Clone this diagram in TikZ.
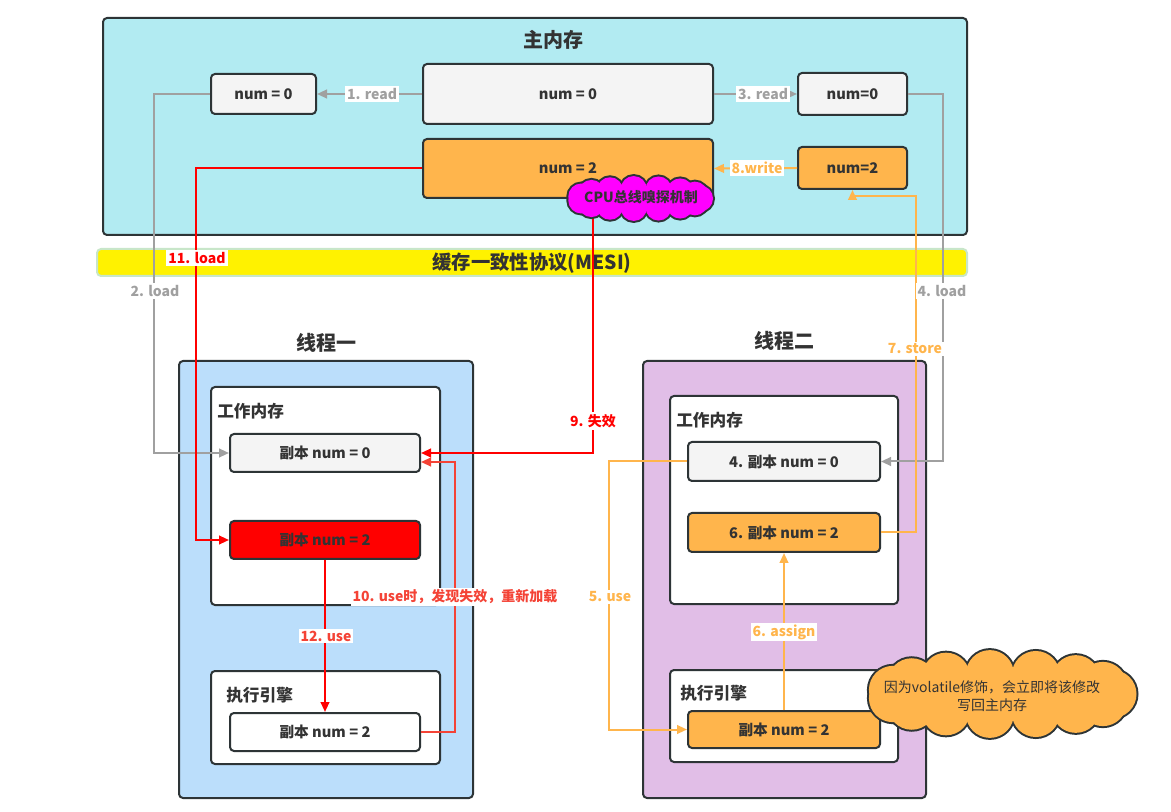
\documentclass[tikz,border=0pt]{standalone}
\usepackage{fontspec}
\setmainfont{Noto Sans CJK SC}
\usetikzlibrary{fit,arrows.meta,calc}
\definecolor{bc}{HTML}{2D3436}
\definecolor{txt}{HTML}{333333}
\definecolor{mainbg}{HTML}{B2EBF2}
\definecolor{t1bg}{HTML}{BBDEFB}
\definecolor{t2bg}{HTML}{E1BEE7}
\definecolor{lgrey}{HTML}{F4F4F4}
\definecolor{orng}{HTML}{FFB54C}
\definecolor{magn}{HTML}{FF00FF}
\definecolor{gline}{HTML}{A0A0A0}
\definecolor{rline}{HTML}{FF0000}
\definecolor{rline2}{HTML}{F44336}
\definecolor{bandedge}{HTML}{C8E6C9}
\tikzset{
  frame/.style={draw=bc, line width=1.5pt, rounded corners=3pt, inner sep=0pt},
  sz/.style 2 args={minimum width=#1*0.75pt, minimum height=#2*0.75pt},
  cell/.style={frame, text=txt, font=\bfseries\fontsize{11}{13}\selectfont},
  title/.style={text=txt, font=\bfseries\fontsize{15}{18}\selectfont},
  sub/.style={text=txt, anchor=west, inner sep=0pt, font=\bfseries\fontsize{12.5}{15}\selectfont},
  lbl/.style={fill=white, inner sep=1.5pt, font=\bfseries\fontsize{10.5}{12}\selectfont},
  puffline/.style={draw=bc, line width=3pt},
  tip/.style={-{Triangle[length=7.5pt,width=6.5pt]}},
  garr/.style={draw=gline, line width=1.5pt, tip},
  oarr/.style={draw=orng, line width=1.5pt, tip},
  rarr/.style={draw=rline, line width=1.5pt, tip},
  rarr2/.style={draw=rline2, line width=1.5pt, tip},
}
\begin{document}
\begin{tikzpicture}[x=0.75pt,y=-0.75pt]
\useasboundingbox (0,0) rectangle (1171,812);
% main memory
\node[frame, fill=mainbg, fit={(103,18) (967,235)}] (mm) {};
\node[title] (mmt) at (553,40) {主内存};
\node[cell, fill=lgrey, sz={105}{40}] (l0) at (263.5,94) {num = 0};
\node[cell, fill=lgrey, sz={290}{60}] (c0) at (568,94) {num = 0};
\node[cell, fill=lgrey, sz={109}{42}] (r0) at (852.5,94) {num=0};
\node[cell, fill=orng, sz={290}{59}] (c2) at (568,168.5) {num = 2};
\node[cell, fill=orng, sz={109}{42}] (r2) at (852.5,168) {num=2};
% band
\node[draw=bandedge, line width=1.5pt, rounded corners=3pt, fill=yellow, inner sep=0pt, fit={(97,249) (967,276)}] (band) {};
\node[text=txt, font=\bfseries\fontsize{14.5}{16}\selectfont] (bandt) at (532,263) {缓存一致性协议(MESI)};
% thread 1
\node[title] (t1t) at (326,343) {线程一};
\node[frame, fill=t1bg, fit={(179,361) (473,798)}] (t1) {};
\node[frame, fill=white, fit={(211,387) (440,605)}] (t1w) {};
\node[sub] (t1wt) at (217,411) {工作内存};
\node[cell, fill=lgrey, sz={190}{38}] (t1c0) at (325,453) {副本 num = 0};
\node[cell, fill=red, sz={190}{38}] (t1c2) at (325,540) {副本 num = 2};
\node[frame, fill=white, fit={(211,671) (440,764)}] (t1e) {};
\node[sub] (t1et) at (226,695) {执行引擎};
\node[cell, fill=white, sz={190}{38}] (t1e2) at (325,732) {副本 num = 2};
% thread 2
\node[title] (t2t) at (784,341) {线程二};
\node[frame, fill=t2bg, fit={(643,361) (926,798)}] (t2) {};
\node[frame, fill=white, fit={(670,396) (898,604)}] (t2w) {};
\node[sub] (t2wt) at (676,420) {工作内存};
\node[cell, fill=lgrey, sz={192}{39}] (t2c0) at (784,461.5) {4. 副本 num = 0};
\node[cell, fill=orng, sz={192}{39}] (t2c2) at (784,532.5) {6. 副本 num = 2};
\node[frame, fill=white, fit={(670,670) (898,762)}] (t2e) {};
\node[sub] (t2et) at (680,693) {执行引擎};
\node[cell, fill=orng, sz={192}{37}] (t2e2) at (784,729.5) {副本 num = 2};
% connectors
\coordinate (cpuout) at (593,214);
\draw[garr] (c0.west) -- (l0.east);
\draw[garr] (c0.east) -- (r0.west);
\draw[oarr] (r2.west) -- (c2.east);
\draw[garr] (l0.west) -- ++(-56,0) |- (t1c0.west);
\draw[garr] (r0.east) -- ++(35,0) |- (t2c0.east);
\draw[rarr] (c2.west) -- ++(-226,0) |- (t1c2.west);
\draw[rarr] (cpuout) |- (t1c0.east);
\draw[rarr2] (t1e2.east) -- ++(34,0) |- ($(t1c0.east)+(0,9)$);
\draw[rarr] (t1c2.south) -- (t1e2.north);
\draw[oarr] (t2c0.west) -- ++(-78,0) |- (t2e2.west);
\draw[oarr] (t2e2.north) -- (t2c2.south);
\draw[oarr] (t2c2.east) -- ++(35,0) -- ++(0,-336) -| (r2.south);
% CPU cloud
\foreach \t in {0,24,...,336} \draw[puffline] (640,198.5) ++(\t:60 and 9.5) circle (13);
\foreach \t in {0,24,...,336} \fill[magn] (640,198.5) ++(\t:60 and 9.5) circle (13);
\fill[magn] (640,198.5) ellipse (60 and 9.5);
\node[inner sep=0pt, fit={(567,176) (713,221)}] (cpu) {};
\node[text=txt, font=\bfseries\fontsize{10.5}{12}\selectfont] (cput) at (641,197) {CPU总线嗅探机制};
% note cloud
\foreach \t in {0,24,...,336} \draw[puffline] (1001.5,694) ++(\t:111 and 20) circle (24);
\foreach \t in {0,24,...,336} \fill[orng] (1001.5,694) ++(\t:111 and 20) circle (24);
\fill[orng] (1001.5,694) ellipse (111 and 20);
\node[inner sep=0pt, fit={(866,650) (1137,738)}] (note) {};
\node[align=center, text=txt, font=\fontsize{10.5}{13}\selectfont] (notet) at (992,696)
      {因为volatile修饰，会立即将该修改\\写回主内存};
% labels
\node[lbl, text=gline] (lb1) at (372,94) {1. read};
\node[lbl, text=gline] (lb3) at (763,94) {3. read};
\node[lbl, text=orng] (lb8) at (757,168) {8.write};
\node[lbl, text=gline] (lb2) at (155,291) {2. load};
\node[lbl, text=gline] (lb4) at (942,291) {4. load};
\node[lbl, text=rline] (lb11) at (197,258) {11. load};
\node[lbl, text=orng] (lb7) at (915,349) {7. store};
\node[lbl, text=rline] (lb9) at (593,421) {9. 失效};
\node[lbl, text=rline2] (lb10) at (455,597) {10. use时，发现失效，重新加载};
\node[lbl, text=rline2] (lb12) at (326,636) {12. use};
\node[lbl, text=orng] (lb5) at (610,597) {5. use};
\node[lbl, text=orng] (lb6) at (784,632) {6. assign};
\end{tikzpicture}
\end{document}
